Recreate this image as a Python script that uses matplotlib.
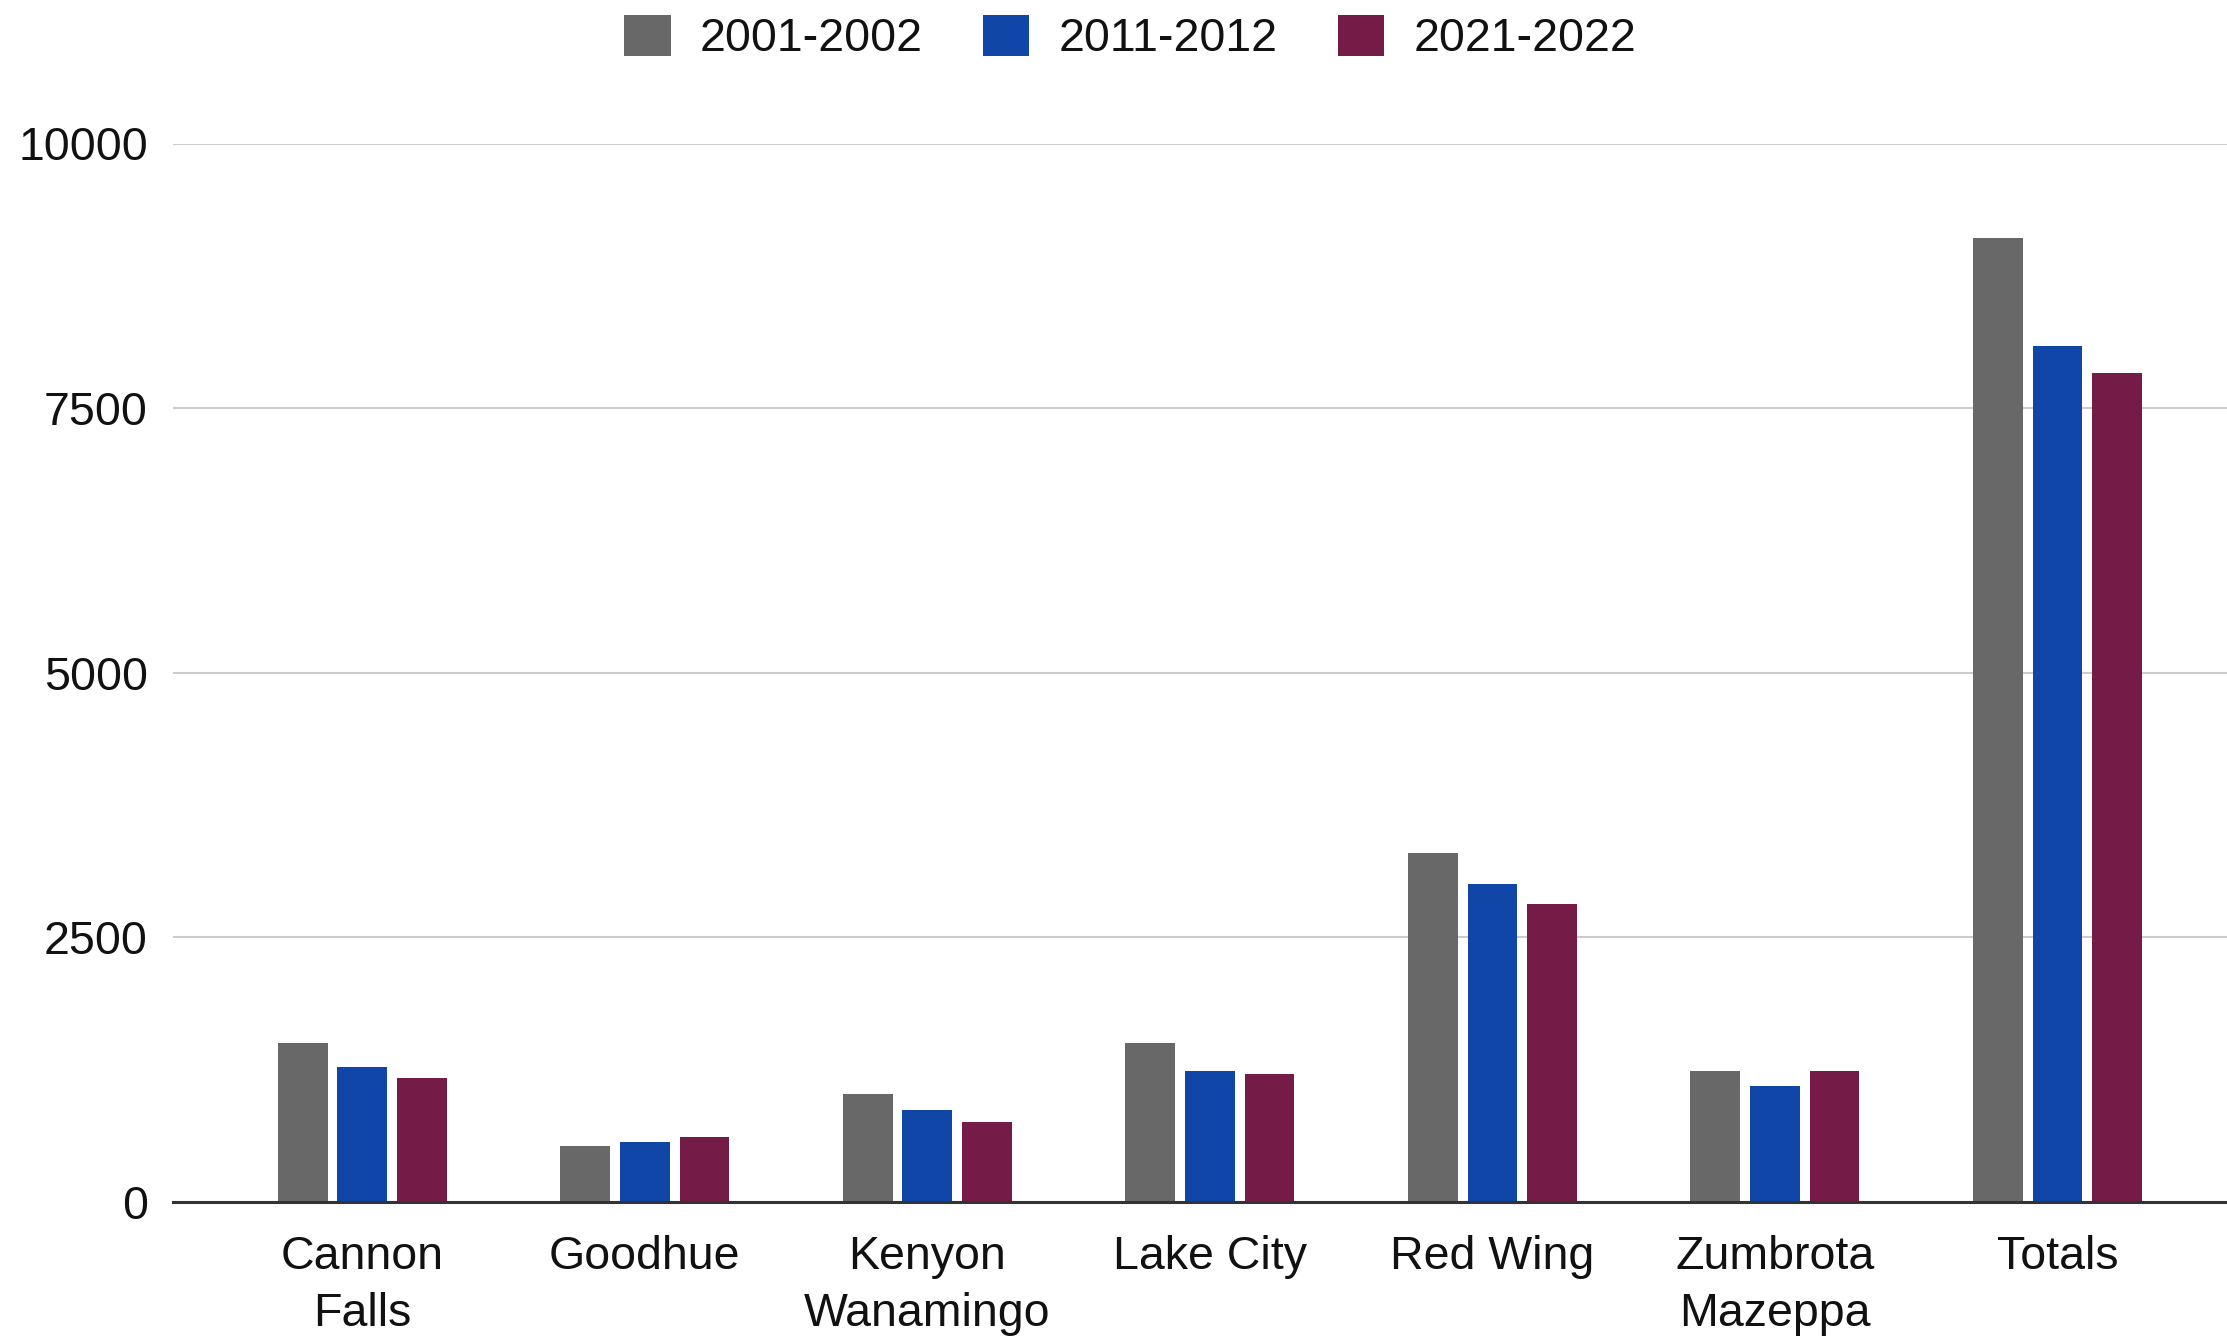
import numpy as np
import matplotlib
matplotlib.use("Agg")
import matplotlib.pyplot as plt

# Enrollment by district, three school years
districts = ["Cannon\nFalls", "Goodhue", "Kenyon\nWanamingo", "Lake City",
             "Red Wing", "Zumbrota\nMazeppa", "Totals"]
years = ["2001-2002", "2011-2012", "2021-2022"]
vals_2001 = [1505, 532, 1017, 1505, 3300, 1240, 9104]
vals_2011 = [1278, 570, 869, 1240, 3004, 1092, 8090]
vals_2021 = [1169, 611, 756, 1209, 2815, 1240, 7829]
colors = ["#686868", "#1046a8", "#741b47"]
y_ticks = [0, 2500, 5000, 7500, 10000]

plt.rcParams['font.family'] = ['Liberation Sans', 'DejaVu Sans']
FS = 33.5

W, H = 2227, 1336
fig = plt.figure(figsize=(W / 100, H / 100), dpi=100)
ax = fig.add_axes([173 / W, 1 - 1202 / H, 1 - 173 / W, (1202 - 143.5) / H])

x = np.arange(len(districts))
bar_w = 0.176
step = 0.211
series = [vals_2001, vals_2011, vals_2021]
handles = []
for i, (vals, col, lab) in enumerate(zip(series, colors, years)):
    b = ax.bar(x + (i - 1) * step, vals, width=bar_w, color=col, label=lab,
               zorder=3, linewidth=0)
    handles.append(b)

ax.set_xlim(-0.67, len(districts) - 1 + 0.6)
ax.set_ylim(0, 10000)
ax.set_yticks(y_ticks)
ax.set_yticklabels([str(v) for v in y_ticks])
ax.set_xticks(x)
ax.set_xticklabels(districts, linespacing=1.38)
ax.tick_params(axis='both', length=0, labelsize=FS, labelcolor="#111111")
ax.tick_params(axis='y', pad=18)
ax.tick_params(axis='x', pad=24)

ax.yaxis.grid(True, color="#cccccc", linewidth=1.5, zorder=0)
ax.set_axisbelow(True)
for s in ["top", "right", "left"]:
    ax.spines[s].set_visible(False)
ax.spines["bottom"].set_color("#333333")
ax.spines["bottom"].set_linewidth(2.2)
ax.spines["bottom"].set_zorder(4)

fig.legend(handles=handles, labels=years, loc="center",
           bbox_to_anchor=(1130 / W, 1 - 38 / H), ncol=3, frameon=False,
           fontsize=FS, handlelength=1.0, handleheight=1.0,
           handletextpad=0.62, columnspacing=1.3, borderpad=0,
           labelcolor="#111111")

fig.savefig("out.png", dpi=100)
